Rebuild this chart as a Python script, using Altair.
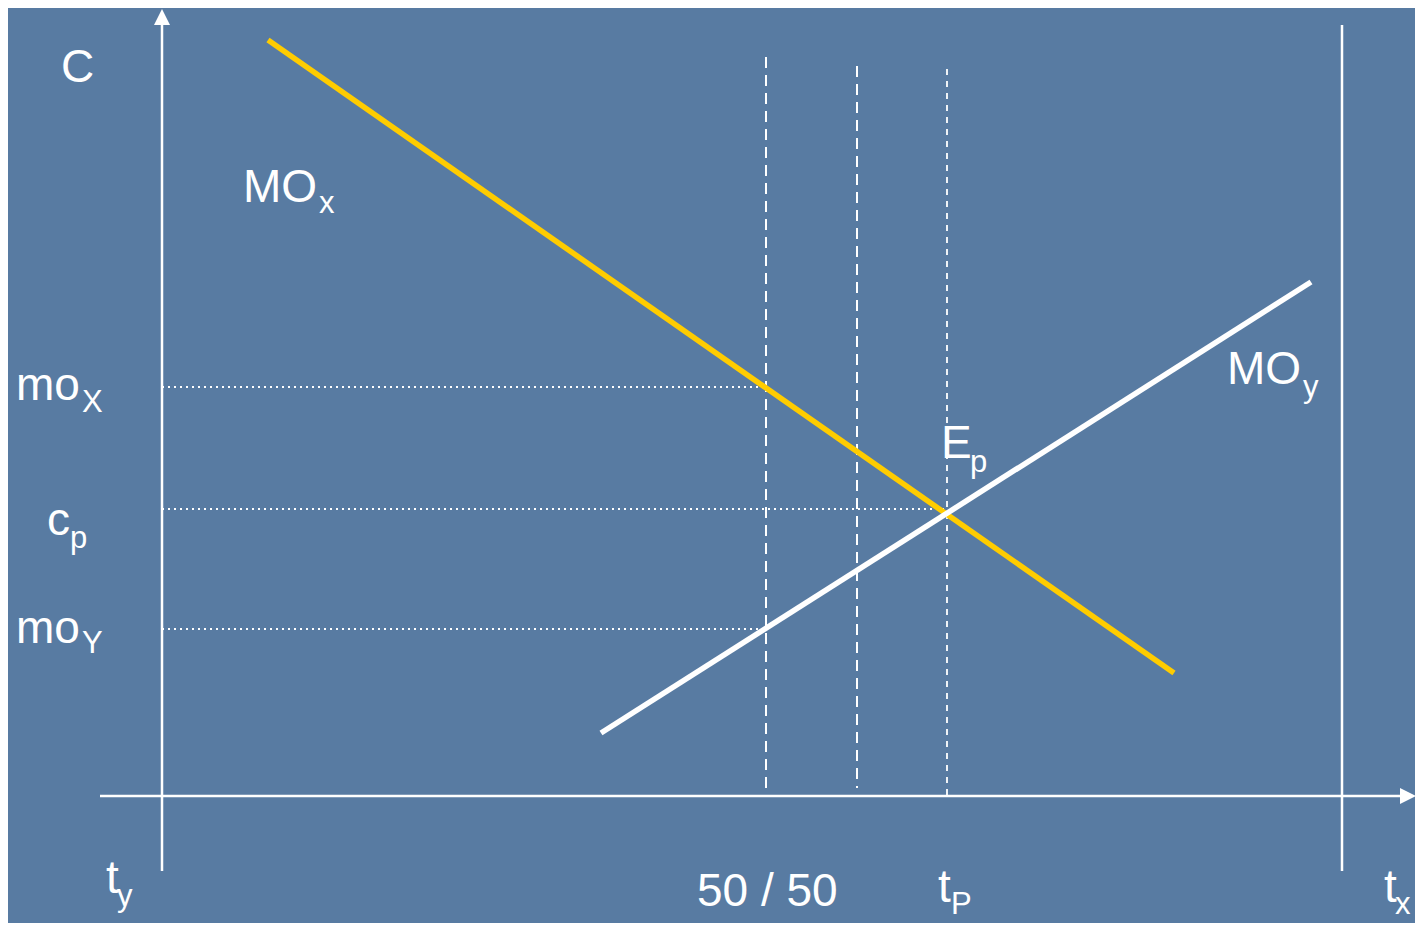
import altair as alt
import pandas as pd

# ---- data (reference pixel coordinates of the diagram) ----
# curves
mox_x = [268, 1174]
mox_y = [40, 673]
moy_x = [601, 1311]
moy_y = [733, 282]

# axes (solid thin white)
axis_x1 = [162, 100, 1342]
axis_y1 = [25, 796, 25]
axis_x2 = [162, 1401, 1342]
axis_y2 = [871, 796, 871]

# dashed verticals
dash_x = [766, 857]
dash_top = [57, 66]
dash_bottom = [796, 788]

# dotted guides
dotv_x = [947]
dotv_top = [69]
dotv_bottom = [796]
doth_x1 = [162, 162, 162]
doth_x2 = [766, 947, 766]
doth_y = [387, 509, 629]

# arrow heads
arrow_x = [162, 1408]
arrow_y = [17, 796]
arrow_shape = ["M0,-1L-1,1L1,1Z", "M1,0L-1,-1L-1,1Z"]

# labels
main_text = ["C", "MO", "mo", "c", "mo", "E", "MO", "t", "50 / 50", "t", "t"]
main_x = [61, 243, 16, 47, 16, 941, 1227, 106, 697, 938, 1384]
main_y = [82, 202, 400, 535, 643, 458, 384, 893, 906, 902, 902]

sub_text = ["x", "X", "p", "Y", "p", "y", "y", "P", "x"]
sub_x = [319, 82, 70, 82, 970, 1303, 117, 951, 1395]
sub_y = [213, 412, 548, 653, 472, 397, 906, 914, 914]

BG = "#587ba2"
W, H = 1407, 915

xs = alt.Scale(domain=[8, 8 + W], range=[0, W], nice=False, zero=False)
ys = alt.Scale(domain=[8, 8 + H], range=[0, H], nice=False, zero=False)


def seg_layer(x1, y1, x2, y2, color, width, dash=None):
    df = pd.DataFrame({"x1": x1, "y1": y1, "x2": x2, "y2": y2})
    kw = dict(color=color, strokeWidth=width, strokeCap="butt")
    if dash:
        kw["strokeDash"] = dash
    return alt.Chart(df).mark_rule(**kw).encode(
        x=alt.X("x1:Q", scale=xs, axis=None),
        y=alt.Y("y1:Q", scale=ys, axis=None),
        x2="x2:Q",
        y2="y2:Q",
    )


axes = seg_layer(axis_x1, axis_y1, axis_x2, axis_y2, "white", 2.5)
dashed = seg_layer(dash_x, dash_top, dash_x, dash_bottom, "white", 2, [11, 7])
dotted_v = seg_layer(dotv_x, dotv_top, dotv_x, dotv_bottom, "white", 1.8, [6, 6])
dotted_h = seg_layer(doth_x1, doth_y, doth_x2, doth_y, "white", 2, [2, 4])

mox = seg_layer([mox_x[0]], [mox_y[0]], [mox_x[1]], [mox_y[1]], "#ffcc00", 5.5)
moy = seg_layer([moy_x[0]], [moy_y[0]], [moy_x[1]], [moy_y[1]], "white", 5.5)

arrows = alt.layer(*[
    alt.Chart(pd.DataFrame({"x": [ax], "y": [ay]})).mark_point(
        shape=sh, size=256, filled=True, color="white", opacity=1, strokeWidth=0
    ).encode(
        x=alt.X("x:Q", scale=xs, axis=None),
        y=alt.Y("y:Q", scale=ys, axis=None),
    )
    for ax, ay, sh in zip(arrow_x, arrow_y, arrow_shape)
])

main_df = pd.DataFrame({"t": main_text, "x": main_x, "y": main_y})
sub_df = pd.DataFrame({"t": sub_text, "x": sub_x, "y": sub_y})

main_labels = alt.Chart(main_df).mark_text(
    align="left", baseline="alphabetic", font="Liberation Sans",
    fontSize=46, color="white"
).encode(
    x=alt.X("x:Q", scale=xs, axis=None),
    y=alt.Y("y:Q", scale=ys, axis=None),
    text="t:N",
)
sub_labels = alt.Chart(sub_df).mark_text(
    align="left", baseline="alphabetic", font="Liberation Sans",
    fontSize=31, color="white"
).encode(
    x=alt.X("x:Q", scale=xs, axis=None),
    y=alt.Y("y:Q", scale=ys, axis=None),
    text="t:N",
)

chart = alt.layer(
    axes, dashed, dotted_v, dotted_h, mox, moy, arrows, main_labels, sub_labels
).properties(
    width=W, height=H, background=BG, padding=0,
    autosize=alt.AutoSizeParams(type="none"),
).configure_view(stroke=None, fill=BG)

chart.save("out.html", embed_options={"renderer": "svg", "actions": False})
